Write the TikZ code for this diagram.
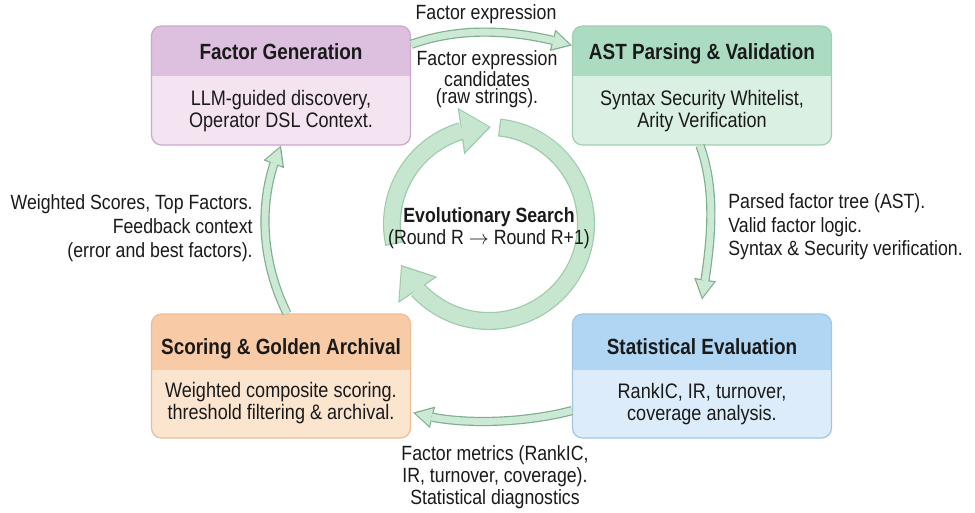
\documentclass[tikz,border=0pt]{standalone}
\usepackage{fontspec}
\setmainfont{Liberation Sans}[FakeStretch=0.86]
\usetikzlibrary{arrows.meta, bending}

\definecolor{ink}{HTML}{1A1A1A}
\definecolor{genhead}{HTML}{DDBFDF}
\definecolor{genbody}{HTML}{F4E4F2}
\definecolor{genline}{HTML}{C9A8CC}
\definecolor{asthead}{HTML}{ABDCC2}
\definecolor{astbody}{HTML}{DAF0E3}
\definecolor{astline}{HTML}{9FCEB3}
\definecolor{stathead}{HTML}{B0D6F4}
\definecolor{statbody}{HTML}{DCECFA}
\definecolor{statline}{HTML}{A0C6E6}
\definecolor{scorehead}{HTML}{F8CBA6}
\definecolor{scorebody}{HTML}{FCE5CF}
\definecolor{scoreline}{HTML}{EDBD95}
\definecolor{arrline}{HTML}{7FAE8E}
\definecolor{arrfill}{HTML}{CBE9D5}
\definecolor{ringline}{HTML}{9CCAAB}
\definecolor{ringfill}{HTML}{C6E6CF}

\tikzset{
  % stage box: #1 colour prefix, #2 depth of the header band
  stagebox/.style 2 args={draw=#1line, fill=#1body, line width=0.6pt,
    rounded corners=5pt, minimum width=129.5pt, inner sep=0pt,
    path picture={\fill[#1head, sharp corners]
      (path picture bounding box.north west) rectangle
      ([yshift=#2]path picture bounding box.north east);}},
  stagetitle/.style={font=\bfseries\fontsize{11}{13}\selectfont,
    anchor=base, text=ink},
  % multi-line texts: base anchor sits on the last line
  stagetext/.style={font=\fontsize{10.5}{11}\selectfont, align=center,
    anchor=base, text=ink},
  % labels next to the arrows
  note/.style={font=\fontsize{10.3}{12}\selectfont, text=ink, inner sep=0pt},
  % fat arrows: outline pass, then fill pass
  flowout/.style={draw=arrline, line width=4.6pt,
    -{Triangle[length=10pt, width=11pt, line width=0pt]}},
  flowin/.style={draw=arrfill, line width=3.4pt, shorten >=1.24pt,
    -{Triangle[length=8.15pt, width=8.97pt, line width=0pt]}},
  ringout/.style={draw=ringline, line width=9pt,
    -{Triangle[length=15pt, width=23.5pt, line width=0pt]}},
  ringin/.style={draw=ringfill, line width=7.8pt, shorten >=0.97pt,
    shorten <=0.6pt, -{Triangle[length=13.43pt, width=21pt, line width=0pt]}},
}

\begin{document}
\begin{tikzpicture}[x=0.5pt, y=-0.5pt]
  \useasboundingbox[fill=white] (0,0) rectangle (975,513);

  % stages
  \node[stagebox={gen}{-25pt}, minimum height=59.5pt] (gen) at (281,85.5) {};
  \node[stagebox={ast}{-25pt}, minimum height=59.5pt] (ast) at (702,85.5) {};
  \node[stagebox={stat}{-28pt}, minimum height=62pt] (stat) at (702,376) {};
  \node[stagebox={score}{-28pt}, minimum height=62pt] (score) at (281,376) {};

  \node[stagetitle] (gentitle) at ([yshift=-17pt]gen.north) {Factor Generation};
  \node[stagetext] (gentext) at ([yshift=-51pt]gen.north)
    {LLM-guided discovery,\\Operator DSL Context.};
  \node[stagetitle] (asttitle) at ([yshift=-17pt]ast.north)
    {AST Parsing \& Validation};
  \node[stagetext] (asttext) at ([yshift=-51pt]ast.north)
    {Syntax Security Whitelist,\\Arity Verification};
  \node[stagetitle] (stattitle) at ([yshift=-20.5pt]stat.north)
    {Statistical Evaluation};
  \node[stagetext] (stattext) at ([yshift=-53.5pt]stat.north)
    {RankIC, IR, turnover,\\coverage analysis.};
  \node[stagetitle] (scoretitle) at ([yshift=-20.5pt]score.north)
    {Scoring \& Golden Archival};
  \node[stagetext] (scoretext) at ([yshift=-53pt]score.north)
    {Weighted composite scoring.\\threshold filtering \& archival.};

  % flow between the stages
  \draw[flowout] ([yshift=-9.5pt]gen.north east) .. controls +(50,-18) and +(-55,-16) .. ([yshift=-10pt]ast.north west);
  \draw[flowin] ([yshift=-9.5pt]gen.north east) .. controls +(50,-18) and +(-55,-16) .. ([yshift=-10pt]ast.north west);

  \draw[flowout] ([xshift=-1pt]ast.south) .. controls +(18,50) and +(8,-50) .. ([yshift=7pt]stat.north);
  \draw[flowin] ([xshift=-1pt]ast.south) .. controls +(18,50) and +(8,-50) .. ([yshift=7pt]stat.north);

  \draw[flowout] ([yshift=14pt]stat.south west) .. controls +(-45,12) and +(45,14) .. ([xshift=1pt, yshift=13pt]score.south east);
  \draw[flowin] ([yshift=14pt]stat.south west) .. controls +(-45,12) and +(45,14) .. ([xshift=1pt, yshift=13pt]score.south east);

  \draw[flowout] ([xshift=3pt]score.north) .. controls +(-25,-50) and +(-25,55) .. (gen.south);
  \draw[flowin] ([xshift=3pt]score.north) .. controls +(-25,-50) and +(-25,55) .. (gen.south);

  % evolutionary loop
  \coordinate (hub) at (489,224);
  \draw[ringout] ([shift={(168:97)}]hub) arc[start angle=168, end angle=271, radius=97];
  \draw[ringin] ([shift={(168:97)}]hub) arc[start angle=168, end angle=271, radius=97];
  \draw[ringout] ([shift={(276:97)}]hub) arc[start angle=276, end angle=515, radius=97];
  \draw[ringin] ([shift={(276:97)}]hub) arc[start angle=276, end angle=515, radius=97];

  \node[note, align=center, anchor=base, font=\fontsize{10.3}{11}\selectfont] (evo) at (489,245)
    {{\bfseries Evolutionary Search}\\(Round R $\rightarrow$ Round R+1)};

  % labels
  \node[note, anchor=base] (lblexpr) at (486,20) {Factor expression};
  \node[note, align=center, anchor=base, font=\fontsize{10.3}{8.8}\selectfont] (lblcand) at (487,104)
    {Factor expression\\candidates\\(raw strings).};
  \node[note, align=left, anchor=base west, font=\fontsize{10.3}{11.75}\selectfont] (lblast) at (728,256)
    {Parsed factor tree (AST).\\Valid factor logic.\\Syntax \& Security verification.};
  \node[note, align=center, anchor=base, font=\fontsize{10.3}{11}\selectfont] (lblstat) at (495,504)
    {Factor metrics (RankIC,\\IR, turnover, coverage).\\Statistical diagnostics};
  \node[note, align=right, anchor=base east] (lblscore) at (253,258)
    {Weighted Scores, Top Factors.\\Feedback context\\(error and best factors).};
\end{tikzpicture}
\end{document}
